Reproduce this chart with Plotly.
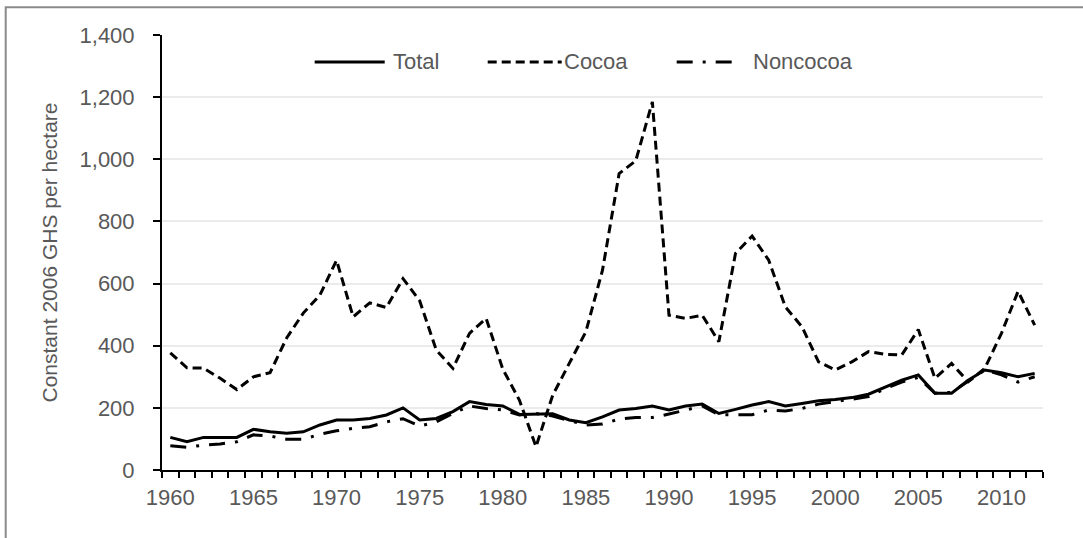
import plotly.graph_objects as go

years = list(range(1960, 2013))

total = [105, 91, 105, 105, 105, 131, 123, 118, 123, 145, 161, 161, 166, 177, 200,
         161, 166, 188, 220, 211, 206, 179, 181, 181, 161, 152, 171, 193, 198, 206,
         193, 206, 212, 182, 195, 209, 220, 206, 214, 223, 227, 233, 244, 266, 289,
         306, 247, 247, 289, 322, 313, 300, 311]

cocoa = [377, 329, 328, 295, 259, 300, 313, 425, 505, 563, 675, 493, 538, 523, 616,
         545, 386, 327, 440, 488, 325, 225, 75, 240, 343, 445, 643, 954, 995, 1185,
         498, 488, 498, 413, 697, 753, 675, 525, 461, 348, 322, 348, 381, 372, 370,
         452, 295, 343, 284, 327, 440, 575, 466]

noncocoa = [78, 73, 80, 84, 91, 113, 109, 99, 99, 115, 126, 134, 139, 155, 165,
            141, 155, 182, 206, 198, 193, 177, 182, 174, 159, 145, 148, 164, 169, 169,
            180, 193, 206, 178, 177, 178, 193, 190, 198, 212, 220, 228, 236, 262, 283,
            298, 247, 250, 285, 322, 306, 283, 300]

series_names = ["Total", "Cocoa", "Noncocoa"]
y_ticks = [0, 200, 400, 600, 800, 1000, 1200, 1400]
x_labels = [1960, 1965, 1970, 1975, 1980, 1985, 1990, 1995, 2000, 2005, 2010]

FONT = "Arial, Liberation Sans, sans-serif"
GREY = "#595959"
DASH_COCOA = "9px,5px"
DASH_NON = "16px,10px,3px,10px"

fig = go.Figure()
fig.add_trace(go.Scatter(x=years, y=total, mode="lines", name="Total",
                         line=dict(color="black", width=3)))
fig.add_trace(go.Scatter(x=years, y=cocoa, mode="lines", name="Cocoa",
                         line=dict(color="black", width=3, dash=DASH_COCOA)))
fig.add_trace(go.Scatter(x=years, y=noncocoa, mode="lines", name="Noncocoa",
                         line=dict(color="black", width=3, dash=DASH_NON)))

# custom legend (long samples like the original)
legend_y = 0.938
legend_items = [
    (series_names[0], 0.1733, 0.2528, 0.2600, "solid"),
    (series_names[1], 0.3697, 0.4537, 0.4545, DASH_COCOA),
    (series_names[2], 0.5842, 0.6523, 0.6690, DASH_NON),
]
shapes = []
annotations = []
for name, x0, x1, xt, dash in legend_items:
    shapes.append(dict(type="line", xref="paper", yref="paper", x0=x0, x1=x1,
                       y0=legend_y, y1=legend_y,
                       line=dict(color="black", width=3, dash=dash)))
    annotations.append(dict(text=name, xref="paper", yref="paper", x=xt, y=legend_y,
                            xanchor="left", yanchor="middle", showarrow=False,
                            font=dict(family=FONT, size=22, color=GREY)))

# outer frame
shapes.append(dict(type="rect", xref="paper", yref="paper", x0=-0.1774, x1=1.06,
                   y0=-0.2, y1=1.0636, line=dict(color="#8a8a8a", width=2),
                   layer="below"))

fig.update_layout(
    width=1083, height=538,
    margin=dict(l=162, r=40, t=35, b=68),
    paper_bgcolor="white", plot_bgcolor="white",
    showlegend=False,
    font=dict(family=FONT, size=22, color=GREY),
    shapes=shapes, annotations=annotations,
    xaxis=dict(
        range=[1959.5, 2012.5],
        tickmode="array", tickvals=x_labels, ticktext=[str(v) for v in x_labels],
        ticks="", showgrid=False, zeroline=False,
        showline=True, linecolor="black", linewidth=2,
        tickfont=dict(family=FONT, size=22, color=GREY),
        ticklabelstandoff=7,
        minor=dict(tickmode="linear", tick0=1959.5, dtick=1, ticks="outside",
                   ticklen=6, tickwidth=2, tickcolor="black", showgrid=False),
    ),
    yaxis=dict(
        range=[0, 1400],
        tickmode="array", tickvals=y_ticks, tickformat=",",
        ticks="outside", ticklen=7, tickwidth=2, tickcolor="black",
        showgrid=True, gridcolor="#ebebeb", gridwidth=1.5,
        zeroline=False, showline=True, linecolor="black", linewidth=2,
        tickfont=dict(family=FONT, size=22, color=GREY),
        ticklabelstandoff=14,
        title=dict(text="Constant 2006 GHS per hectare",
                   font=dict(family=FONT, size=21, color=GREY), standoff=16),
    ),
)

fig.write_html("out.html", config={"displayModeBar": False},
               post_script="document.body.style.margin='0px';document.body.style.overflow='hidden';")
